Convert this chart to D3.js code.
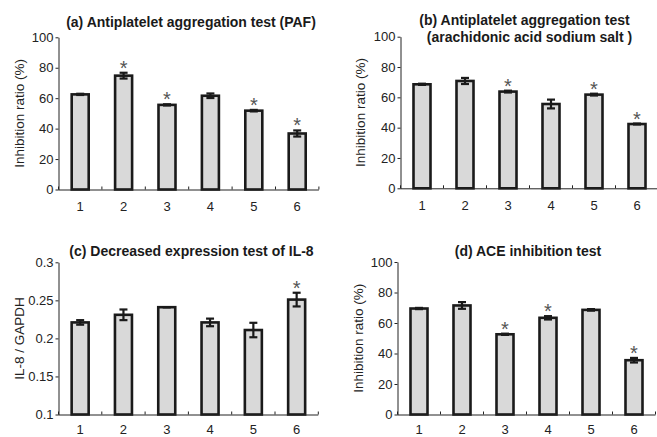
<!DOCTYPE html>
<html>
<head>
<meta charset="utf-8">
<script src="https://cdn.jsdelivr.net/npm/d3@7"></script>
<style>
  body { margin: 0; background: #fff; }
  svg { display: block; font-family: "Liberation Sans", Arial, sans-serif; }
  .axis path, .axis line { stroke: #222; }
  .axis text { fill: #222; font-size: 13px; font-family: "Liberation Sans", Arial, sans-serif; }
</style>
</head>
<body>
<div id="graf"></div>
<script>
// Datos
const categories = ["1", "2", "3", "4", "5", "6"]

const pafValues = [62.5, 74.8, 55.6, 61.6, 51.8, 36.8]
const pafErrors = [0.4, 1.9, 0.4, 1.5, 0.5, 2.0]
const pafStars = [false, true, true, false, true, true]

const aaValues = [68.6, 70.8, 63.8, 55.6, 61.8, 42.4]
const aaErrors = [0.4, 2.0, 0.6, 2.9, 0.6, 0.3]
const aaStars = [false, false, true, false, true, true]

const il8Values = [0.221, 0.231, 0.241, 0.221, 0.211, 0.251]
const il8Errors = [0.003, 0.007, 0, 0.005, 0.0095, 0.009]
const il8Stars = [false, false, false, false, false, true]

const aceValues = [69.5, 71.5, 52.6, 63.4, 68.6, 35.6]
const aceErrors = [0.4, 2.2, 0.4, 1.1, 0.5, 1.5]
const aceStars = [false, false, true, true, false, true]

const pctTicks = [0, 20, 40, 60, 80, 100]
const il8Ticks = [0.1, 0.15, 0.2, 0.25, 0.3]

const svg = d3.select("#graf")
  .append("svg")
  .attr("width", 657)
  .attr("height", 437)

const drawPanel = (p) => {
  const x = d3.scaleBand()
    .domain(categories)
    .range([p.left, p.left + p.step * categories.length])
    .padding(0)
  const y = d3.scaleLinear()
    .domain(p.domain)
    .range([p.bottom, p.top])

  const g = svg.append("g")

  // Barras
  const barW = 17
  g.selectAll("rect.bar")
    .data(p.values)
    .join("rect")
    .attr("class", "bar")
    .attr("x", (d, i) => x(categories[i]) + x.bandwidth() / 2 - barW / 2)
    .attr("y", (d) => y(d))
    .attr("width", barW)
    .attr("height", (d) => y(p.domain[0]) - y(d))
    .attr("fill", "#d9d9d9")
    .attr("stroke", "#1a1a1a")
    .attr("stroke-width", 2.6)

  // Barras de error
  const cap = 4
  const err = g.selectAll("g.err")
    .data(p.values)
    .join("g")
    .attr("class", "err")
    .attr("stroke", "#1a1a1a")
    .attr("stroke-width", 2.2)
  err.append("line")
    .attr("x1", (d, i) => x(categories[i]) + x.bandwidth() / 2)
    .attr("x2", (d, i) => x(categories[i]) + x.bandwidth() / 2)
    .attr("y1", (d, i) => y(d - p.errors[i]))
    .attr("y2", (d, i) => y(d + p.errors[i]))
  err.append("line")
    .attr("x1", (d, i) => x(categories[i]) + x.bandwidth() / 2 - cap)
    .attr("x2", (d, i) => x(categories[i]) + x.bandwidth() / 2 + cap)
    .attr("y1", (d, i) => y(d + p.errors[i]))
    .attr("y2", (d, i) => y(d + p.errors[i]))
  err.append("line")
    .attr("x1", (d, i) => x(categories[i]) + x.bandwidth() / 2 - cap)
    .attr("x2", (d, i) => x(categories[i]) + x.bandwidth() / 2 + cap)
    .attr("y1", (d, i) => y(d - p.errors[i]))
    .attr("y2", (d, i) => y(d - p.errors[i]))

  // Asteriscos
  g.selectAll("text.star")
    .data(p.values.map((d, i) => ({ v: d + p.errors[i], c: categories[i], s: p.stars[i] })).filter((d) => d.s))
    .join("text")
    .attr("class", "star")
    .attr("x", (d) => x(d.c) + x.bandwidth() / 2)
    .attr("y", (d) => y(d.v) + 2)
    .attr("text-anchor", "middle")
    .attr("font-size", 20)
    .attr("fill", "#555")
    .text("*")

  // Ejes
  const yAxis = d3.axisLeft(y)
    .tickValues(p.ticks)
    .tickFormat(p.format)
    .tickSize(3)
    .tickPadding(2)
    .tickSizeOuter(0)
  g.append("g")
    .attr("class", "axis")
    .attr("transform", `translate(${p.left}, 0)`)
    .call(yAxis)

  const xAxis = d3.axisBottom(x)
    .tickSize(0)
    .tickPadding(p.xPad)
  const xAxisGroup = g.append("g")
    .attr("class", "axis")
    .attr("transform", `translate(0, ${p.bottom})`)
    .call(xAxis)
  xAxisGroup.select(".domain").attr("d", `M${p.left},0.5H${p.left + p.step * categories.length}`)

  // marcas entre categorias
  const bounds = categories.map((c) => x(c)).concat([x.range()[1]])
  g.selectAll("line.sep")
    .data(bounds)
    .join("line")
    .attr("class", "sep")
    .attr("x1", (d) => d)
    .attr("x2", (d) => d)
    .attr("y1", p.bottom)
    .attr("y2", p.bottom - 3)
    .attr("stroke", "#222")

  // Titulo
  const title = g.append("text")
    .attr("text-anchor", "middle")
    .attr("font-weight", "bold")
    .attr("font-size", 14)
    .attr("fill", "#1a1a1a")
  p.title.forEach((t, i) => {
    title.append("tspan")
      .attr("x", p.titleX[i])
      .attr("y", p.titleY + i * 17)
      .text(t)
  })

  // Etiqueta eje y
  g.append("text")
    .attr("transform", `translate(${p.labelX}, ${(p.top + p.bottom) / 2}) rotate(-90)`)
    .attr("text-anchor", "middle")
    .attr("font-size", 13.5)
    .attr("fill", "#222")
    .text(p.label)
}

drawPanel({
  values: pafValues, errors: pafErrors, stars: pafStars,
  domain: [0, 100], ticks: pctTicks, format: d3.format("d"),
  left: 58.5, step: 43.4, top: 37.3, bottom: 189.5, xPad: 12,
  title: ["(a) Antiplatelet aggregation test (PAF)"], titleX: [191], titleY: 26.5,
  label: "Inhibition ratio (%)", labelX: 23.5
})

drawPanel({
  values: aaValues, errors: aaErrors, stars: aaStars,
  domain: [0, 100], ticks: pctTicks, format: d3.format("d"),
  left: 400.5, step: 43, top: 36.7, bottom: 188.3, xPad: 12,
  title: ["(b) Antiplatelet aggregation test", "(arachidonic acid sodium salt )"], titleX: [524.5, 529.5], titleY: 25,
  label: "Inhibition ratio (%)", labelX: 364.5
})

drawPanel({
  values: il8Values, errors: il8Errors, stars: il8Stars,
  domain: [0.1, 0.3], ticks: il8Ticks, format: (d) => String(d),
  left: 58.5, step: 43.3, top: 262.3, bottom: 414.5, xPad: 10,
  title: ["(c) Decreased expression test of IL-8"], titleX: [191.5], titleY: 256,
  label: "IL-8 / GAPDH", labelX: 23.5
})

drawPanel({
  values: aceValues, errors: aceErrors, stars: aceStars,
  domain: [0, 100], ticks: pctTicks, format: d3.format("d"),
  left: 397.5, step: 43, top: 262, bottom: 414.5, xPad: 10,
  title: ["(d) ACE inhibition test"], titleX: [528], titleY: 256,
  label: "Inhibition ratio (%)", labelX: 362.5
})
</script>
</body>
</html>
